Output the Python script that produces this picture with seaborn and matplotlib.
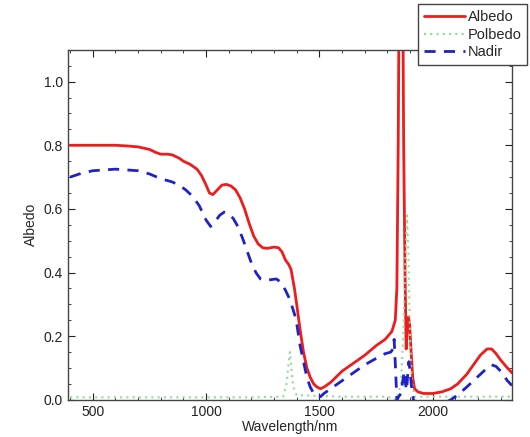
import numpy as np
import pandas as pd
import matplotlib
matplotlib.use("Agg")
import matplotlib.pyplot as plt
from matplotlib.ticker import MultipleLocator
import seaborn as sns

sns.set_style("ticks")
plt.rcParams['font.family'] = ['Liberation Sans', 'DejaVu Sans']

albedo_wl = [400, 500, 600, 650, 700, 750, 780, 800, 830, 850, 880, 900, 930, 960, 980, 1000,
             1015, 1030, 1050, 1070, 1090, 1110, 1130, 1150, 1170, 1190, 1210, 1230, 1250,
             1270, 1300, 1320, 1335, 1350, 1365, 1375, 1390, 1400, 1415, 1430, 1445, 1460,
             1475, 1490, 1505, 1520, 1550, 1600, 1650, 1700, 1750, 1790, 1820, 1835, 1842,
             1848, 1852, 1868, 1872, 1878, 1883, 1888, 1893, 1898, 1905, 1912, 1920, 1935,
             1960, 2000, 2040, 2080, 2110, 2150, 2180, 2210, 2240, 2260, 2280, 2300, 2330, 2350]
albedo = [0.80, 0.80, 0.80, 0.798, 0.795, 0.787, 0.777, 0.772, 0.772, 0.770, 0.760, 0.750,
          0.740, 0.725, 0.705, 0.675, 0.650, 0.645, 0.660, 0.675, 0.677, 0.672, 0.660, 0.635,
          0.600, 0.555, 0.515, 0.490, 0.478, 0.476, 0.480, 0.478, 0.465, 0.440, 0.425, 0.410,
          0.350, 0.300, 0.220, 0.150, 0.100, 0.070, 0.050, 0.040, 0.035, 0.040, 0.055, 0.090,
          0.115, 0.140, 0.170, 0.190, 0.215, 0.250, 0.350, 0.800, 1.300, 1.300, 0.800, 0.400,
          0.160, 0.220, 0.260, 0.240, 0.150, 0.070, 0.035, 0.025, 0.020, 0.020, 0.025, 0.035,
          0.050, 0.080, 0.110, 0.140, 0.160, 0.160, 0.145, 0.125, 0.100, 0.085]

nadir_wl = [400, 450, 500, 600, 700, 750, 800, 850, 880, 910, 940, 970, 1000, 1020, 1040,
            1060, 1080, 1100, 1120, 1140, 1160, 1180, 1200, 1220, 1240, 1260, 1290, 1310,
            1330, 1350, 1370, 1390, 1400, 1415, 1430, 1445, 1460, 1475, 1490, 1505, 1520,
            1550, 1600, 1650, 1700, 1750, 1790, 1815, 1825, 1830, 1836, 1842, 1850, 1860,
            1868, 1875, 1880, 1885, 1890, 1895, 1900, 1907, 1915, 1930, 1960, 2000, 2050,
            2080, 2110, 2150, 2180, 2210, 2240, 2260, 2280, 2300, 2330, 2350]
nadir = [0.70, 0.712, 0.72, 0.725, 0.72, 0.71, 0.695, 0.685, 0.675, 0.66, 0.64, 0.61, 0.565,
         0.545, 0.56, 0.58, 0.59, 0.585, 0.57, 0.545, 0.51, 0.47, 0.43, 0.40, 0.38, 0.375,
         0.378, 0.38, 0.37, 0.345, 0.315, 0.27, 0.24, 0.17, 0.12, 0.07, 0.04, 0.02, 0.01,
         0.01, 0.02, 0.035, 0.06, 0.085, 0.11, 0.13, 0.145, 0.15, 0.16, 0.19, 0.10, 0.0,
         0.01, 0.02, 0.06, 0.09, 0.05, 0.03, 0.08, 0.12, 0.09, 0.04, 0.0, -0.01, -0.015,
         -0.015, -0.01, 0.0, 0.015, 0.04, 0.06, 0.08, 0.10, 0.11, 0.105, 0.09, 0.06, 0.045]

polbedo_wl = [400, 800, 1200, 1340, 1355, 1362, 1370, 1378, 1385, 1400, 1600, 1800, 1840,
              1860, 1870, 1880, 1887, 1893, 1900, 1908, 1920, 2100, 2350]
polbedo = [0.008, 0.008, 0.008, 0.01, 0.05, 0.10, 0.15, 0.09, 0.04, 0.015, 0.01, 0.01, 0.0,
           0.05, 0.20, 0.45, 0.58, 0.45, 0.20, 0.06, 0.01, 0.01, 0.01]

fig = plt.figure(figsize=(5.30, 4.37), dpi=100)
ax = fig.add_axes([0.128, 0.085, 0.838, 0.801])

sns.lineplot(x=albedo_wl, y=albedo, ax=ax, color='#ee1c1c', lw=2.0, label='Albedo')
sns.lineplot(x=polbedo_wl, y=polbedo, ax=ax, color='#8fdc9a', lw=1.5, label='Polbedo')
sns.lineplot(x=nadir_wl, y=nadir, ax=ax, color='#1f22c8', lw=2.0, label='Nadir')
ax.lines[1].set_linestyle((0, (1, 2)))
ax.lines[2].set_linestyle((0, (4, 3)))

ax.set_xlim(390, 2350)
ax.set_ylim(0, 1.1)
ax.xaxis.set_major_locator(MultipleLocator(500))
ax.xaxis.set_minor_locator(MultipleLocator(100))
ax.yaxis.set_major_locator(MultipleLocator(0.2))
ax.yaxis.set_minor_locator(MultipleLocator(0.05))
ax.yaxis.set_major_formatter(matplotlib.ticker.FormatStrFormatter('%.1f'))
ax.tick_params(which='both', direction='in', top=True, right=True, labelsize=10, colors='#222222')
ax.tick_params(which='major', length=5)
ax.tick_params(which='minor', length=2.5)
for s in ax.spines.values():
    s.set_color('#444444')
    s.set_linewidth(1.0)
ax.set_xlabel('Wavelength/nm', fontsize=10, labelpad=1)
ax.set_ylabel('Albedo', fontsize=10)

leg = ax.legend(loc='upper right', bbox_to_anchor=(0.995, 0.99), bbox_transform=fig.transFigure,
                frameon=True, fancybox=False, fontsize=10.5, handlelength=2.8,
                handletextpad=0.2, borderpad=0.4, labelspacing=0.25, borderaxespad=0)
leg.get_frame().set_edgecolor('#444444')
leg.get_frame().set_linewidth(1.0)
leg.get_frame().set_alpha(1)

fig.savefig('out.png', dpi=100)
